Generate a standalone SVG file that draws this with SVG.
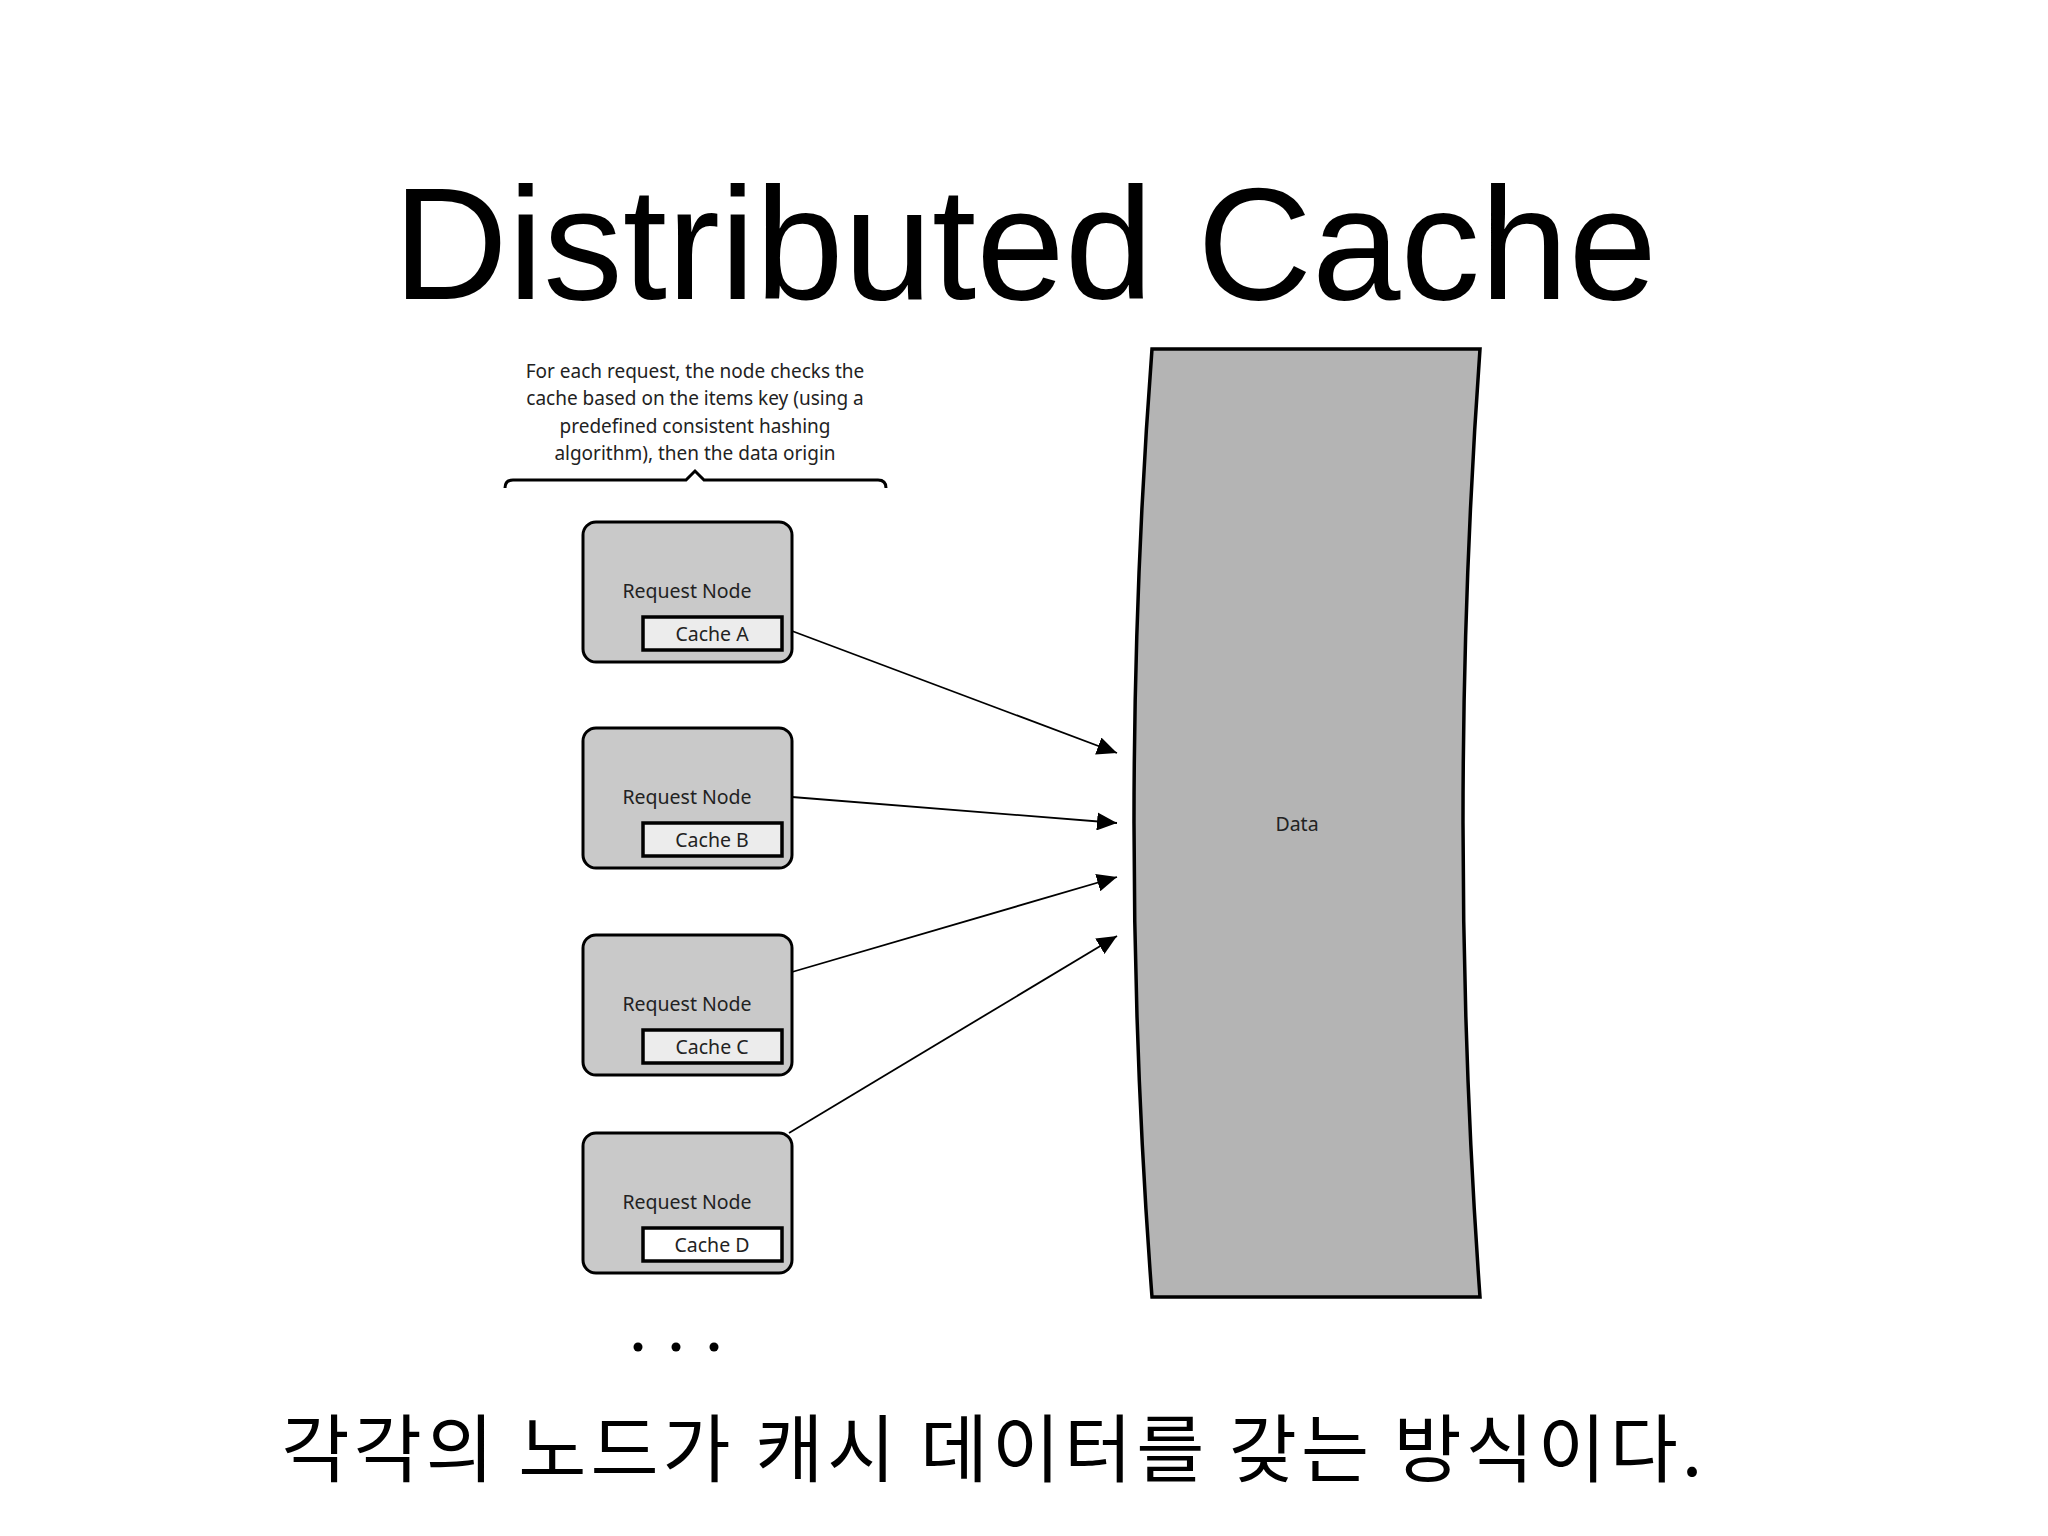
<svg xmlns="http://www.w3.org/2000/svg" width="2048" height="1536" viewBox="0 0 2048 1536">
<defs>
<style>
.node{fill:#c9c9c9;stroke:#000;stroke-width:3}
.cache{fill:#ececec;stroke:#000;stroke-width:3.5}
.lbl{font-family:"Noto Sans","Open Sans",sans-serif;font-size:19.5px;fill:#222;text-anchor:middle}
.note{font-size:19px}
.conn{stroke:#000;stroke-width:1.8;fill:none;marker-end:url(#arr)}
</style>
<marker id="arr" markerUnits="userSpaceOnUse" markerWidth="22" markerHeight="18" refX="20" refY="9" orient="auto">
<path d="M0,0 L20,9 L0,18 z" fill="#000"/>
</marker>
</defs>
<rect width="2048" height="1536" fill="#fff"/>
<text x="1025" y="299" font-family="Liberation Sans, Arial, sans-serif" font-size="159" text-anchor="middle" fill="#000">Distributed Cache</text>

<g id="annotation">
<text class="lbl note" x="695" y="378">For each request, the node checks the</text>
<text class="lbl note" x="695" y="405">cache based on the items key (using a</text>
<text class="lbl note" x="695" y="433">predefined consistent hashing</text>
<text class="lbl note" x="695" y="460">algorithm), then the data origin</text>
<path d="M505,488 Q505,480 513,480 L686,480 L695,471 L704,480 L878,480 Q886,480 886,488" fill="none" stroke="#000" stroke-width="3"/>
</g>

<g id="data">
<path d="M1152,349 L1480,349 Q1446,823 1480,1297 L1152,1297 Q1116,823 1152,349 Z" fill="#b4b4b4" stroke="#000" stroke-width="3.5"/>
<text class="lbl" x="1297" y="831">Data</text>
</g>

<g id="nodeA">
<rect class="node" x="583" y="522" width="209" height="140" rx="13"/>
<text class="lbl" x="687" y="598">Request Node</text>
<rect class="cache" x="643" y="617" width="139" height="33"/>
<text class="lbl" x="712" y="641">Cache A</text>
</g>
<g id="nodeB">
<rect class="node" x="583" y="728" width="209" height="140" rx="13"/>
<text class="lbl" x="687" y="804">Request Node</text>
<rect class="cache" x="643" y="823" width="139" height="33"/>
<text class="lbl" x="712" y="847">Cache B</text>
</g>
<g id="nodeC">
<rect class="node" x="583" y="935" width="209" height="140" rx="13"/>
<text class="lbl" x="687" y="1011">Request Node</text>
<rect class="cache" x="643" y="1030" width="139" height="33"/>
<text class="lbl" x="712" y="1054">Cache C</text>
</g>
<g id="nodeD">
<rect class="node" x="583" y="1133" width="209" height="140" rx="13"/>
<text class="lbl" x="687" y="1209">Request Node</text>
<rect class="cache" x="643" y="1228" width="139" height="33" style="fill:#fff"/>
<text class="lbl" x="712" y="1252">Cache D</text>
</g>

<g id="dots" fill="#000">
<circle cx="638" cy="1347" r="4.5"/>
<circle cx="676" cy="1347" r="4.5"/>
<circle cx="714" cy="1347" r="4.5"/>
</g>

<g id="connectors">
<line class="conn" x1="792" y1="631" x2="1117" y2="753"/>
<line class="conn" x1="792" y1="797" x2="1117" y2="823"/>
<line class="conn" x1="792" y1="972" x2="1117" y2="877"/>
<line class="conn" x1="789" y1="1133" x2="1117" y2="936"/>
</g>

<text x="994" y="1476" font-family="Noto Sans CJK KR, sans-serif" font-size="74" letter-spacing="4" text-anchor="middle" fill="#000">각각의 노드가 캐시 데이터를 갖는 방식이다.</text>
</svg>
